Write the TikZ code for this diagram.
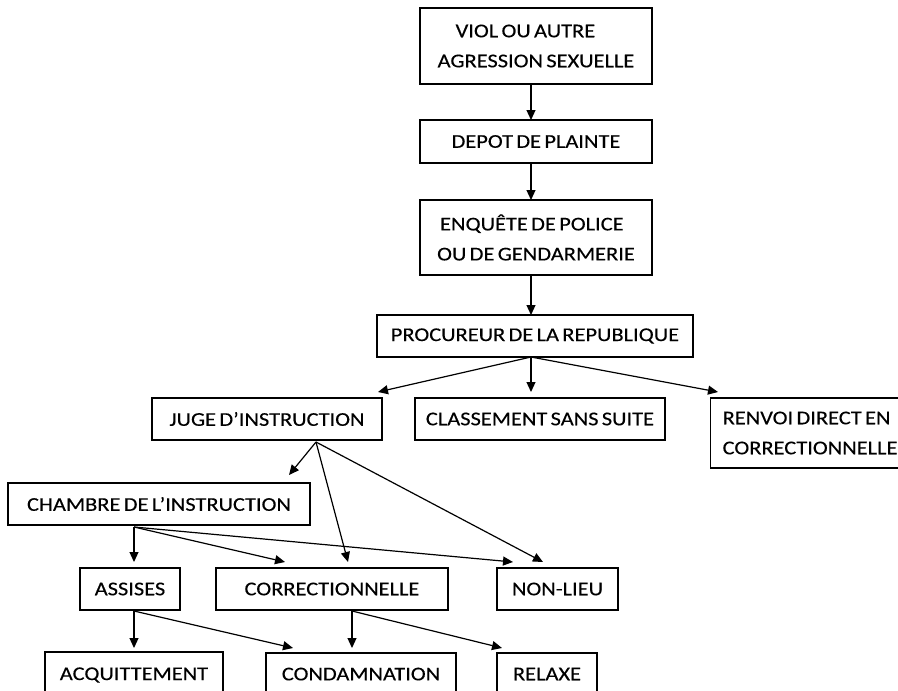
\documentclass[tikz,border=0pt]{standalone}
\usepackage{fontspec}
\setmainfont{Carlito}[FakeStretch=1.15,FakeBold=0.3]
\usetikzlibrary{arrows.meta}
\newcommand\boxfont{\fontsize{19.5}{30}\selectfont\spaceskip 0.17em plus 0.05em\relax}
\begin{document}
\begin{tikzpicture}[x=1pt,y=-1pt,
  box/.style={draw, line width=1.3pt, inner sep=0pt, font=\boxfont, align=center},
  arr/.style={-{Triangle[length=10pt,width=9pt]}, line width=1.2pt}]
\useasboundingbox (0,0) rectangle (898,691);
\clip (0,0) rectangle (898,691);
% boxes
\node[box, minimum width=232, minimum height=76, align=flush left] (viol) at (536,46) {\hspace*{18pt}VIOL OU AUTRE\\AGRESSION SEXUELLE};
\node[box, minimum width=232, minimum height=43] (depot) at (536,141.5) {DEPOT DE PLAINTE};
\node[box, minimum width=232, minimum height=75, align=flush left] (enq) at (536,237.5) {\hspace*{3pt}ENQUÊTE DE POLICE\\OU DE GENDARMERIE};
\node[box, minimum width=316, minimum height=42] (proc) at (535,336) {PROCUREUR DE LA REPUBLIQUE};
\node[box, minimum width=230, minimum height=42] (juge) at (267,419) {JUGE D’INSTRUCTION};
\node[box, minimum width=250, minimum height=42] (class) at (540,419) {CLASSEMENT SANS SUITE};
\node[box, anchor=west, text width=190, inner xsep=12pt, align=flush left, minimum height=70] (renvoi) at (710,433) {RENVOI DIRECT EN\\CORRECTIONNELLE};
\node[box, minimum width=302, minimum height=42] (chambre) at (159,504) {CHAMBRE DE L’INSTRUCTION};
\node[box, minimum width=100, minimum height=42] (assises) at (130,589) {ASSISES};
\node[box, minimum width=232, minimum height=42] (correc) at (332,589) {CORRECTIONNELLE};
\node[box, minimum width=121, minimum height=42] (nonlieu) at (557.5,589) {NON-LIEU};
\node[box, minimum width=178, minimum height=46] (acquit) at (134,675) {\raisebox{2pt}{ACQUITTEMENT}};
\node[box, minimum width=190, minimum height=44] (condam) at (361,675) {\raisebox{2pt}{CONDAMNATION}};
\node[box, minimum width=100, minimum height=44] (relaxe) at (547,675) {\raisebox{2pt}{RELAXE}};
% split points and tips
\coordinate (sp1) at (531,84);
\coordinate (sp2) at (531,163);
\coordinate (sp3) at (531,275);
\coordinate (sp4) at (531,357);
\coordinate (sj) at (316,442);
\coordinate (sc) at (134,527);
\coordinate (sa) at (134,611);
\coordinate (sr) at (352,611);
\coordinate (t1) at (531,120);
\coordinate (t2) at (531,200);
\coordinate (t3) at (531,315);
\coordinate (tjuge) at (378,392);
\coordinate (tclass) at (531,392);
\coordinate (trenvoi) at (718,392);
\coordinate (tch) at (289,475);
\coordinate (tcor1) at (348,562);
\coordinate (tnl1) at (543,562);
\coordinate (tass) at (134,562);
\coordinate (tcor2) at (285,562);
\coordinate (tnl2) at (513,562);
\coordinate (tacq) at (134,648);
\coordinate (tcon1) at (293,648);
\coordinate (tcon2) at (352,648);
\coordinate (trel) at (502,648);
% connectors
\draw[arr] (sp1) -- (t1);
\draw[arr] (sp2) -- (t2);
\draw[arr] (sp3) -- (t3);
\draw[arr] (sp4) -- (tjuge);
\draw[arr] (sp4) -- (tclass);
\draw[arr] (sp4) -- (trenvoi);
\draw[arr] (sj) -- (tch);
\draw[arr] (sj) -- (tcor1);
\draw[arr] (sj) -- (tnl1);
\draw[arr] (sc) -- (tass);
\draw[arr] (sc) -- (tcor2);
\draw[arr] (sc) -- (tnl2);
\draw[arr] (sa) -- (tacq);
\draw[arr] (sa) -- (tcon1);
\draw[arr] (sr) -- (tcon2);
\draw[arr] (sr) -- (trel);
\end{tikzpicture}
\end{document}
